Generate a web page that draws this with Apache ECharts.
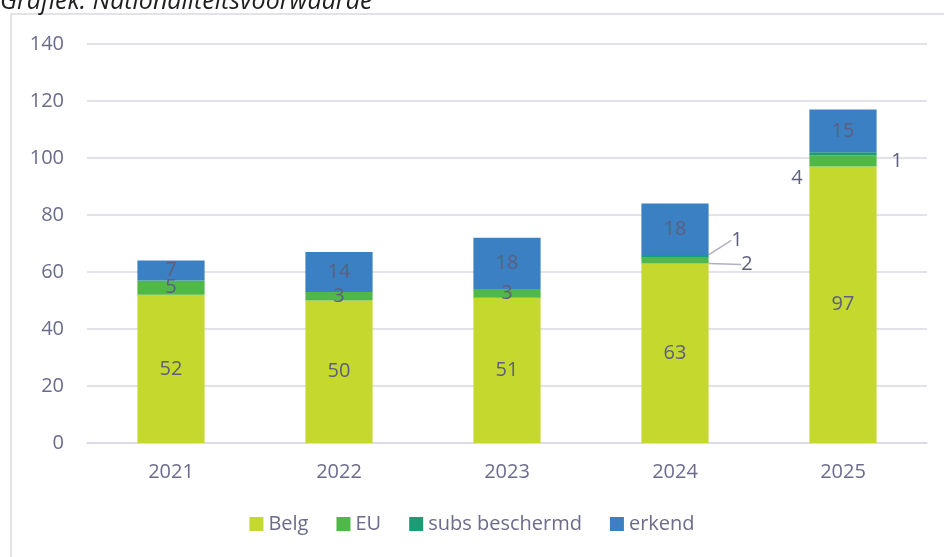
<!DOCTYPE html>
<html>
<head>
<meta charset="utf-8">
<script src="https://cdn.jsdelivr.net/npm/echarts@6/dist/echarts.min.js"></script>
<style>
  html, body { margin: 0; padding: 0; background: #fff; }
  #chart { width: 944px; height: 557px; }
</style>
</head>
<body>
<div id="chart"></div>
<script>
  const years = ['2021', '2022', '2023', '2024', '2025'];
  const belg = [52, 50, 51, 63, 97];
  const eu = [5, 3, 3, 2, 4];
  const subs = [0, 0, 0, 1, 1];
  const erkend = [7, 14, 18, 18, 15];
  const yTicks = [0, 20, 40, 60, 80, 100, 120, 140];

  const font = '"Open Sans", Lato, sans-serif';
  const textColor = '#6b6b8c';
  const labelColor = '#5e5e7e';

  // labels that sit outside the bar (2024 gets a leader line, 2025 not)
  const outside = {
    EU: {3: {dx: 72, dy: 4, line: true}, 4: {dx: -46, dy: 17}},
    'subs beschermd': {3: {dx: 62, dy: -16, line: true}, 4: {dx: 54, dy: 8}}
  };

  const chart = echarts.init(document.getElementById('chart'));

  function series(name, data, color) {
    const moved = outside[name] || {};
    return {
      name: name,
      type: 'bar',
      stack: 'total',
      barWidth: '40%',
      itemStyle: {color: color},
      label: {
        show: true,
        position: 'inside',
        color: labelColor,
        fontSize: 20,
        fontFamily: font,
        formatter: p => p.value ? p.value : ''
      },
      labelLine: {show: false, lineStyle: {color: '#b0b0c4', width: 1.5}},
      labelLayout: p => {
        const o = moved[p.dataIndex];
        return o ? {dx: o.dx, dy: o.dy} : {};
      },
      data: data.map((v, i) => moved[i] && moved[i].line
        ? {value: v, labelLine: {show: true}}
        : v)
    };
  }

  chart.setOption({
    animation: false,
    graphic: [
      {
        type: 'rect',
        shape: {x: 11, y: 14, width: 960, height: 600},
        style: {fill: 'none', stroke: '#d9d9e3', lineWidth: 1.5},
        silent: true
      },
      {
        type: 'text',
        left: 0,
        top: -11,
        style: {
          text: 'Grafiek: Nationaliteitsvoorwaarde',
          font: 'italic 25px ' + font,
          fill: '#1f1f1f'
        }
      }
    ],
    grid: {left: 87, right: 17, top: 44, bottom: 114, containLabel: false},
    legend: {
      bottom: 18,
      left: 'center',
      itemWidth: 14,
      itemHeight: 14,
      itemGap: 28,
      icon: 'rect',
      textStyle: {color: textColor, fontSize: 20, fontFamily: font},
      data: ['Belg', 'EU', 'subs beschermd', 'erkend']
    },
    xAxis: {
      type: 'category',
      data: years,
      axisLine: {lineStyle: {color: '#d9d9e3', width: 1.5}},
      axisTick: {show: false},
      axisLabel: {color: textColor, fontSize: 20, fontFamily: font, margin: 19}
    },
    yAxis: {
      type: 'value',
      min: yTicks[0],
      max: yTicks[yTicks.length - 1],
      interval: 20,
      axisLine: {show: false},
      axisTick: {show: false},
      splitLine: {lineStyle: {color: '#d9d9e3', width: 1.5}},
      axisLabel: {color: textColor, fontSize: 20, fontFamily: font, margin: 23}
    },
    series: [
      series('Belg', belg, '#c4d82e'),
      series('EU', eu, '#50b848'),
      series('subs beschermd', subs, '#1a9c74'),
      series('erkend', erkend, '#3a80c2')
    ]
  });
</script>
</body>
</html>
